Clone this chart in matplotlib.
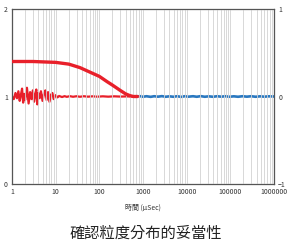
import numpy as np
import matplotlib
matplotlib.use("Agg")
import matplotlib.pyplot as plt
from matplotlib.ticker import FixedLocator, NullFormatter

plt.rcParams['font.family'] = ['Noto Sans CJK TC', 'DejaVu Sans']

# correlation curve (left axis)
fit_t = [1, 3, 10, 20, 36, 60, 100, 150, 200, 300, 400, 500, 600, 700]
fit_g = [1.40, 1.40, 1.39, 1.37, 1.33, 1.28, 1.23, 1.17, 1.13, 1.07, 1.03, 1.01, 1.0, 1.0]

# residual (right axis), red part then blue part
res_red_t = [1.0, 1.1, 1.2, 1.3, 1.4, 1.5, 1.6, 1.7, 1.8, 1.9, 2.0, 2.2, 2.4, 2.6, 2.8,
             3.0, 3.2, 3.4, 3.6, 3.8, 4.0, 4.3, 4.6, 5.0, 5.4, 5.8, 6.2, 6.7, 7.2, 7.8,
             8.4, 9.0, 10, 11, 12, 14, 16, 18, 21, 25, 30, 36, 44, 55, 70, 90, 120,
             160, 220, 300, 420, 600, 800]
res_red = [0.0, -0.03, 0.04, -0.02, 0.06, -0.05, 0.02, 0.09, -0.07, 0.03, -0.04, 0.10,
           -0.08, 0.05, -0.03, 0.07, -0.06, 0.02, 0.08, -0.09, 0.04, -0.02, 0.06, -0.05,
           0.03, 0.07, -0.04, 0.05, -0.06, 0.02, 0.04, -0.03, 0.015, -0.01, 0.006, -0.006,
           0.004, -0.004, 0.004, -0.003, 0.003, -0.003, 0.003, -0.002, 0.002, -0.002, 0.002,
           -0.002, 0.002, -0.001, 0.001, 0.0, 0.0]
res_blue_t = [700, 850, 1000, 1200, 1500, 1800, 2200, 2700, 3300, 4000, 5000, 6000,
              7500, 9000, 11000, 14000, 17000, 21000, 26000, 32000, 40000, 50000, 62000,
              77000, 95000, 120000, 150000, 190000, 240000, 300000, 380000, 480000,
              600000, 760000, 1000000]
res_blue = [0.0, 0.004, -0.003, 0.003, -0.004, 0.003, -0.002, 0.004, -0.003, 0.002,
            -0.003, 0.003, -0.004, 0.003, -0.002, 0.003, -0.003, 0.004, -0.003, 0.002,
            -0.003, 0.003, -0.002, 0.003, -0.003, 0.002, -0.003, 0.003, -0.002, 0.003,
            -0.003, 0.002, -0.002, 0.002, 0.0]

xticks = [1, 10, 100, 1000, 10000, 100000, 1000000]
xlabels = ['1', '10', '100', '1000', '10000', '100000', '1000000']

fig = plt.figure(figsize=(2.91, 2.45), dpi=100)
ax = fig.add_axes([12/291, 1-184/245, 262/291, 175/245])
ax.set_xscale('log')
ax.set_xlim(1, 1e6)
ax.set_ylim(0, 2)

minors = [m * 10**d for d in range(6) for m in range(2, 10)]
ax.xaxis.set_major_locator(FixedLocator(xticks))
ax.xaxis.set_minor_locator(FixedLocator(minors))
ax.xaxis.set_minor_formatter(NullFormatter())
ax.set_xticks(xticks)
ax.set_xticklabels(xlabels)
ax.grid(True, which='both', axis='x', color='#d2d2d2', lw=0.6)
ax.set_axisbelow(True)

ax.set_yticks([0, 1, 2])
ax.tick_params(axis='both', which='both', length=0, labelsize=5, colors='#333333', pad=3)
for s in ax.spines.values():
    s.set_color('#555555')
    s.set_linewidth(0.8)

ax2 = ax.twinx()
ax2.set_ylim(-1, 1)
ax2.set_yticks([-1, 0, 1])
ax2.tick_params(axis='y', length=0, labelsize=5, colors='#333333', pad=3)

ax2.plot(res_blue_t, res_blue, color='#2a78c0', lw=1.9)
ax2.plot(res_red_t, res_red, color='#e8202a', lw=1.6)
ax.plot(fit_t, fit_g, color='#e8202a', lw=2.4, zorder=5)
ax.set_zorder(ax2.get_zorder() + 1)
ax.patch.set_visible(False)

ax.set_xlabel('時間 (μSec)', fontsize=5, color='#333333', labelpad=5)
fig.text(0.5, 1-233/245, '確認粒度分布的妥當性', ha='center', va='center',
         fontsize=11, color='#222222')

fig.savefig('out.png', dpi=100)
